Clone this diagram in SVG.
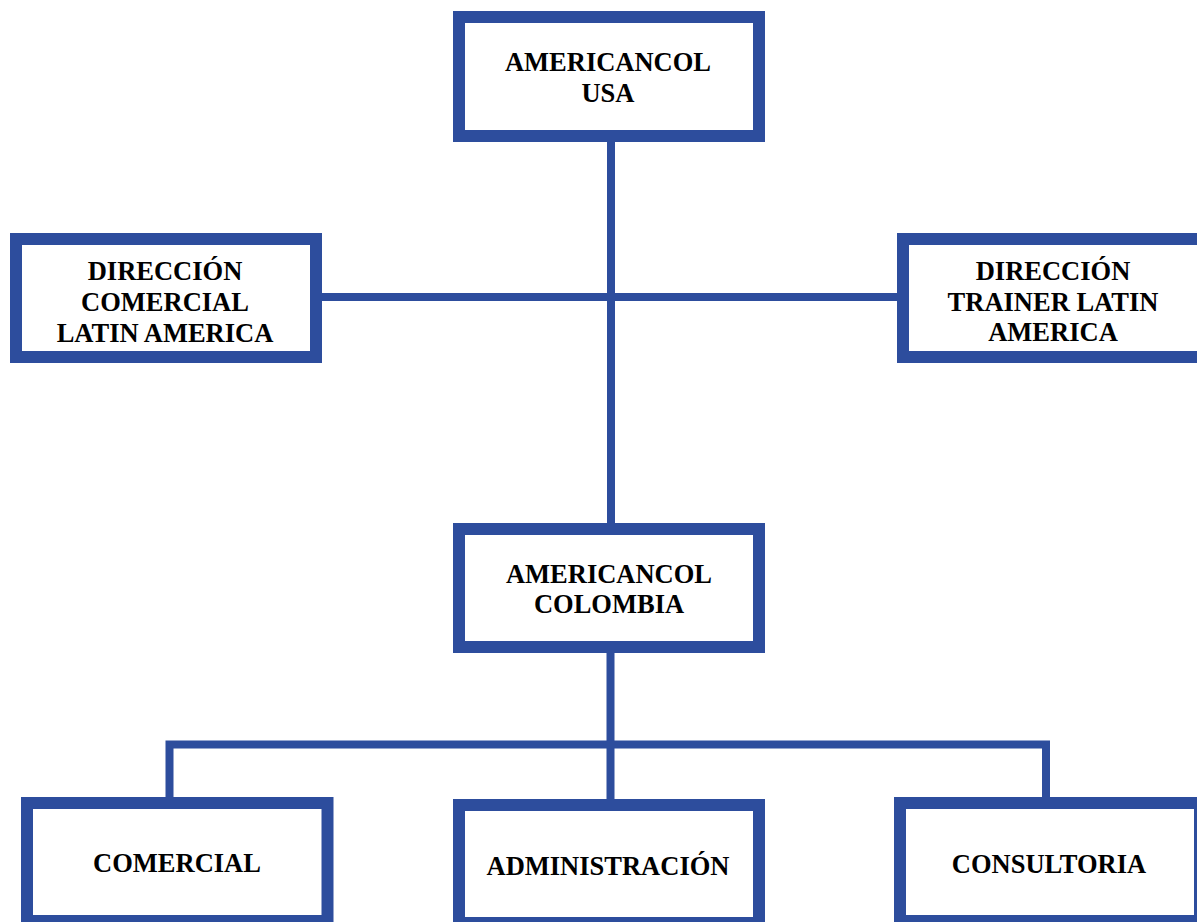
<svg xmlns="http://www.w3.org/2000/svg" width="1197" height="922" viewBox="0 0 1197 922">
<style>
.box{fill:#ffffff;stroke:#2D4D9D;stroke-width:12}
.t{font-family:"Liberation Serif","Times New Roman",serif;font-weight:bold;font-size:26.5px;fill:#000;text-anchor:middle}
.c{fill:none;stroke:#2D4D9D;stroke-width:8}
</style>
<rect width="1197" height="922" fill="#ffffff"/>
<g id="connectors">
<line class="c" x1="611" y1="140" x2="611" y2="525"/>
<line class="c" x1="320" y1="297" x2="899" y2="297"/>
<line class="c" x1="610.5" y1="651" x2="610.5" y2="801"/>
<path class="c" d="M169.5 799 V744.5 H1046 V799"/>
</g>
<g id="usa">
<rect class="box" x="459" y="17" width="300" height="119"/>
<text class="t" x="608" y="71">AMERICANCOL</text>
<text class="t" x="608" y="101.7">USA</text>
</g>
<g id="dir-comercial">
<rect class="box" x="16" y="239" width="300" height="118"/>
<text class="t" x="165" y="280">DIRECCIÓN</text>
<text class="t" x="165" y="310.7">COMERCIAL</text>
<text class="t" x="165" y="341.7">LATIN AMERICA</text>
</g>
<g id="dir-trainer">
<rect class="box" x="903" y="239" width="300" height="118"/>
<text class="t" x="1053" y="280">DIRECCIÓN</text>
<text class="t" x="1053" y="310.7">TRAINER LATIN</text>
<text class="t" x="1053" y="340.7">AMERICA</text>
</g>
<g id="colombia">
<rect class="box" x="459" y="529" width="300" height="118"/>
<text class="t" x="609" y="583">AMERICANCOL</text>
<text class="t" x="609" y="613">COLOMBIA</text>
</g>
<g id="comercial">
<rect class="box" x="27" y="803" width="300.5" height="118"/>
<text class="t" x="177" y="871.7">COMERCIAL</text>
</g>
<g id="administracion">
<rect class="box" x="459" y="805" width="300" height="118"/>
<text class="t" x="608" y="875">ADMINISTRACIÓN</text>
</g>
<g id="consultoria">
<rect class="box" x="900" y="803" width="300" height="118"/>
<text class="t" x="1049" y="873">CONSULTORIA</text>
</g>
</svg>
